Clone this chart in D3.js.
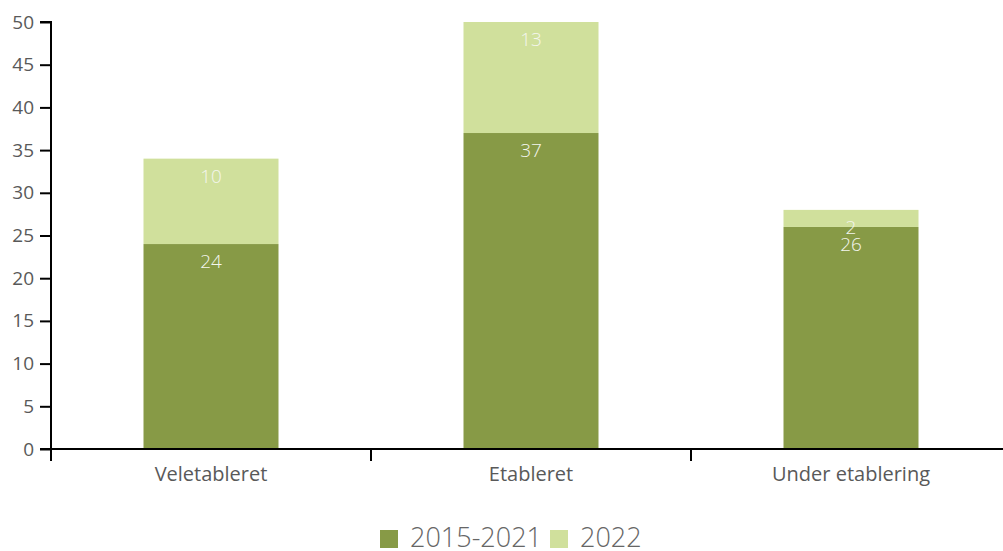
<!DOCTYPE html>
<html><head><meta charset="utf-8">
<script src="https://cdn.jsdelivr.net/npm/d3@7"></script>
<style>body{margin:0;background:#fff}svg{display:block;font-family:"Open Sans",sans-serif}</style>
</head><body><svg id="c" width="1003" height="551"></svg>
<script>
const categories = ["Veletableret", "Etableret", "Under etablering"];
const seriesNames = ["2015-2021", "2022"];
const values2015_2021 = [24, 37, 26];
const values2022 = [10, 13, 2];
const yTicks = [0, 5, 10, 15, 20, 25, 30, 35, 40, 45, 50];
const colors = ["#879a46", "#d0e09c"];

const svg = d3.select("#c");
const x = d3.scaleBand().domain(categories).range([51, 1011]).paddingInner(0).paddingOuter(0);
const y = d3.scaleLinear().domain([0, 50]).range([449, 22]);
const barW = 135;

const stacked = categories.map((c, i) => {
  const a = values2015_2021[i], b = values2022[i];
  return [{s:0, y0:0, y1:a, v:a, c}, {s:1, y0:a, y1:a+b, v:b, c}];
}).flat();

svg.append("g").selectAll("rect").data(stacked).join("rect")
  .attr("x", d => x(d.c) + x.bandwidth()/2 - barW/2)
  .attr("width", barW)
  .attr("y", d => y(d.y1))
  .attr("height", d => y(d.y0) - y(d.y1))
  .attr("fill", d => colors[d.s]);

svg.append("g").selectAll("text").data(stacked).join("text")
  .attr("x", d => x(d.c) + x.bandwidth()/2)
  .attr("y", d => y(d.y1) + 24)
  .attr("text-anchor", "middle")
  .attr("fill", "#f4f6ee")
  .attr("font-size", 19)
  .attr("font-weight", 300)
  .text(d => d.v);

// y axis
const yAxis = svg.append("g").attr("transform", "translate(51,0)")
  .call(d3.axisLeft(y).tickValues(yTicks).tickSize(11).tickPadding(6));
yAxis.select(".domain").attr("stroke", "#000").attr("stroke-width", 2).attr("d", `M-11,${y(50)}H0V${y(0)}`);
yAxis.selectAll(".tick line").attr("stroke", "#000").attr("stroke-width", 2);
yAxis.selectAll(".tick text").attr("fill", "#595959").attr("font-size", 19).attr("font-family", "Open Sans");

// x axis
const xAxis = svg.append("g").attr("transform", `translate(0,${y(0)})`);
xAxis.append("line").attr("x1", 40).attr("x2", 1003).attr("y1", 0).attr("y2", 0).attr("stroke", "#000").attr("stroke-width", 2);
xAxis.selectAll("line.t").data(categories).join("line").attr("class","t")
  .attr("x1", d => x(d)).attr("x2", d => x(d)).attr("y1", 0).attr("y2", 12)
  .attr("stroke", "#000").attr("stroke-width", 2);
xAxis.selectAll("text").data(categories).join("text")
  .attr("x", d => x(d) + x.bandwidth()/2)
  .attr("y", 32)
  .attr("text-anchor", "middle")
  .attr("fill", "#595959")
  .attr("font-size", 20)
  .text(d => d);

// legend
const leg = svg.append("g");
const legX = [380, 550];
seriesNames.forEach((n, i) => {
  leg.append("rect").attr("x", legX[i]).attr("y", 530).attr("width", 18).attr("height", 18).attr("fill", colors[i]);
  leg.append("text").attr("x", legX[i] + 30).attr("y", 547).attr("fill", "#666")
    .attr("font-size", 27).attr("font-weight", 300).text(n);
});
</script></body></html>
